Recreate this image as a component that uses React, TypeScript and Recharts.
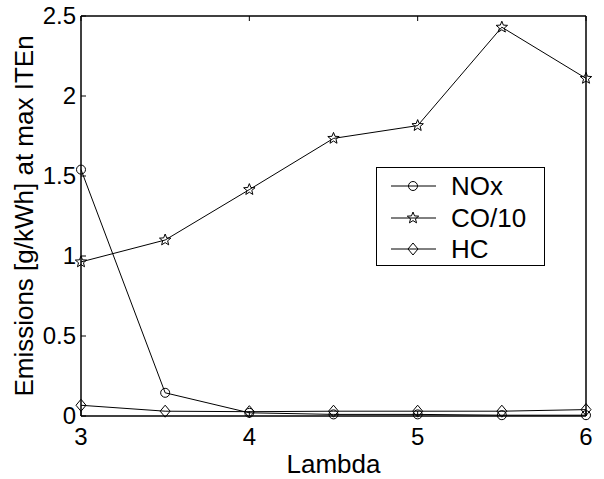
import React from 'react';
import { LineChart, Line, XAxis, YAxis } from 'recharts';

const lambda = [3, 3.5, 4, 4.5, 5, 5.5, 6];
const noxValues = [1.54, 0.145, 0.02, 0.01, 0.01, 0.005, 0.005];
const coValues = [0.963, 1.1, 1.415, 1.735, 1.815, 2.43, 2.11];
const hcValues = [0.067, 0.03, 0.027, 0.03, 0.03, 0.03, 0.04];

const xTicks = [3, 4, 5, 6];
const yTicks = [0, 0.5, 1, 1.5, 2, 2.5];

const FONT = '"Liberation Sans", Arial, Helvetica, sans-serif';

const data = lambda.map((l, i) => ({
  lambda: l,
  nox: noxValues[i],
  co: coValues[i],
  hc: hcValues[i],
}));

// marker shapes, matlab style (open)
const circle = (cx: number, cy: number, k?: string) => (
  <circle key={k} cx={cx} cy={cy} r={4.5} fill="none" stroke="#000" strokeWidth={1} />
);
const diamond = (cx: number, cy: number, k?: string) => (
  <path
    key={k}
    d={`M${cx},${cy - 6} L${cx + 5},${cy} L${cx},${cy + 6} L${cx - 5},${cy} Z`}
    fill="none"
    stroke="#000"
    strokeWidth={1}
  />
);
const star = (cx: number, cy: number, k?: string) => {
  const pts: string[] = [];
  for (let i = 0; i < 10; i++) {
    const r = i % 2 === 0 ? 6 : 2.6;
    const a = -Math.PI / 2 + (i * Math.PI) / 5;
    pts.push(`${cx + r * Math.cos(a)},${cy + r * Math.sin(a)}`);
  }
  return <polygon key={k} points={pts.join(' ')} fill="none" stroke="#000" strokeWidth={1} />;
};

const dotOf = (fn: typeof circle) => (p: any) => fn(p.cx, p.cy, `d-${p.index}`);

const BottomTick = (p: any) => (
  <g>
    <line x1={p.x} y1={p.y} x2={p.x} y2={p.y - 5} stroke="#000" />
    <text x={p.x} y={p.y + 29} textAnchor="middle" fontSize={24} fontFamily={FONT} fill="#000">
      {p.payload.value}
    </text>
  </g>
);
const LeftTick = (p: any) => (
  <g>
    <line x1={p.x} y1={p.y} x2={p.x + 5} y2={p.y} stroke="#000" />
    <text x={p.x - 5} y={p.y + 8} textAnchor="end" fontSize={24} fontFamily={FONT} fill="#000">
      {p.payload.value}
    </text>
  </g>
);
const TopTick = (p: any) => <line x1={p.x} y1={p.y} x2={p.x} y2={p.y + 5} stroke="#000" />;
const RightTick = (p: any) => <line x1={p.x} y1={p.y} x2={p.x - 5} y2={p.y} stroke="#000" />;

const legendItems = [
  { name: 'NOx', shape: circle, y: 19 },
  { name: 'CO/10', shape: star, y: 51 },
  { name: 'HC', shape: diamond, y: 82 },
];

const LegendBox = () => (
  <svg width={170} height={100} style={{ position: 'absolute', left: 376, top: 167 }}>
    <rect x={0.5} y={0.5} width={168} height={98} fill="#fff" stroke="#000" />
    {legendItems.map((it) => (
      <g key={it.name}>
        <line x1={15} y1={it.y} x2={60} y2={it.y} stroke="#000" />
        {it.shape(37, it.y)}
        <text x={75} y={it.y + 9} fontSize={26} fontFamily={FONT} fill="#000">
          {it.name}
        </text>
      </g>
    ))}
  </svg>
);

export default function App() {
  return (
    <div style={{ position: 'absolute', left: 0, top: 0, width: 604, height: 479, background: '#fff' }}>
      <LineChart width={604} height={479} data={data} margin={{ top: 15, right: 17, left: 0, bottom: 0 }}>
        <XAxis
          xAxisId="b"
          dataKey="lambda"
          type="number"
          domain={[3, 6]}
          ticks={xTicks}
          height={63}
          tickSize={0}
          tickMargin={0}
          tick={<BottomTick />}
          axisLine={{ stroke: '#000', strokeWidth: 1.5 }}
          label={{ value: 'Lambda', position: 'insideBottom', offset: 6, fontSize: 26, fontFamily: FONT, fill: '#000' }}
        />
        <XAxis
          xAxisId="t"
          orientation="top"
          dataKey="lambda"
          type="number"
          domain={[3, 6]}
          ticks={xTicks}
          height={1}
          tickSize={0}
          tickMargin={0}
          tick={<TopTick />}
          axisLine={{ stroke: '#000', strokeWidth: 1.5 }}
        />
        <YAxis
          yAxisId="l"
          type="number"
          domain={[0, 2.5]}
          ticks={yTicks}
          width={81}
          tickSize={0}
          tickMargin={0}
          tick={<LeftTick />}
          axisLine={{ stroke: '#000', strokeWidth: 1.5 }}
          label={{
            value: 'Emissions [g/kWh] at max ITEn',
            angle: -90,
            position: 'insideLeft',
            offset: 24,
            style: { textAnchor: 'middle' },
            fontSize: 26,
            fontFamily: FONT,
            fill: '#000',
          }}
        />
        <YAxis
          yAxisId="r"
          orientation="right"
          type="number"
          domain={[0, 2.5]}
          ticks={yTicks}
          width={1}
          tickSize={0}
          tickMargin={0}
          tick={<RightTick />}
          axisLine={{ stroke: '#000', strokeWidth: 1.5 }}
        />
        <Line xAxisId="b" yAxisId="l" dataKey="nox" name="NOx" stroke="#000" strokeWidth={1} dot={dotOf(circle)} isAnimationActive={false} />
        <Line xAxisId="b" yAxisId="l" dataKey="co" name="CO/10" stroke="#000" strokeWidth={1} dot={dotOf(star)} isAnimationActive={false} />
        <Line xAxisId="b" yAxisId="l" dataKey="hc" name="HC" stroke="#000" strokeWidth={1} dot={dotOf(diamond)} isAnimationActive={false} />
      </LineChart>
      <LegendBox />
    </div>
  );
}
